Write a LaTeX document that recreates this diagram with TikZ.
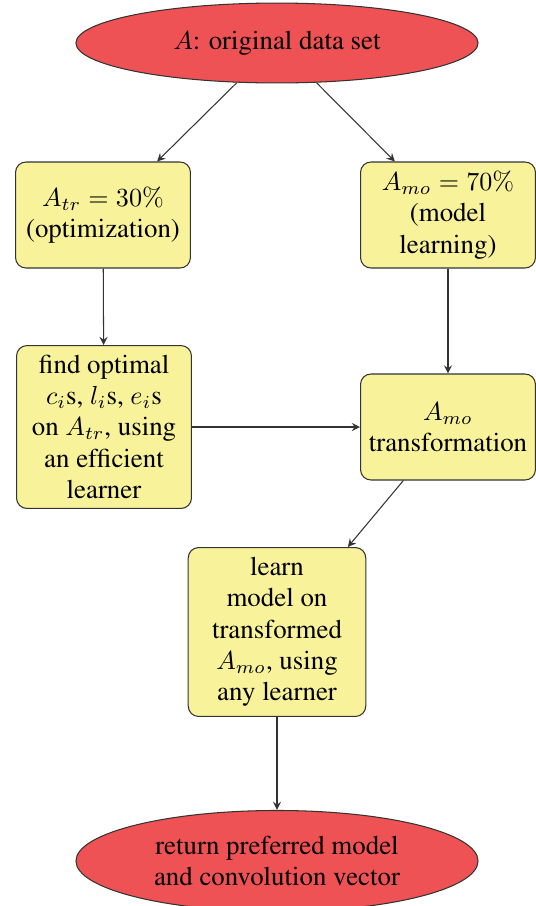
\documentclass[tikz,border=0pt]{standalone}
\usepackage[T1]{fontenc}
\usepackage{times}
\usepackage{tikz}
\usetikzlibrary{shapes.geometric}
\definecolor{termred}{RGB}{239,82,84}
\definecolor{procyellow}{RGB}{248,242,154}
\tikzstyle{block}=[draw=black!80, fill=procyellow, rounded corners=4pt, align=center,
                   inner sep=0, minimum width=67pt, minimum height=40.6pt]
\tikzstyle{term}=[draw=black!80, fill=termred, ellipse, align=center,
                  inner sep=0, minimum width=154pt, minimum height=30.6pt]
\tikzstyle{flow}=[draw=black!80, -stealth]
\begin{document}
\begin{tikzpicture}[x=0.383pt, y=-0.383pt,
                    % Slightly larger text than 10pt.
                    every node/.style={font=\fontsize{10.3}{12}\selectfont}]
        \useasboundingbox (0, 0) rectangle (536, 906);
        \node[term] (orig) at (277, 43) {$A$: original data set};
        \node[block] (atr) at (103, 215) {$A_{tr} = 30\%$\\(optimization)};
        \node[block] (amo) at (448, 215) {$A_{mo} = 70\%$\\(model\\learning)};
        \node[block, minimum height=62.4pt] (findopt) at (104, 427)
            {find optimal\\$c_i$s, $l_i$s, $e_i$s\\on $A_{tr}$, using\\an efficient\\learner};
        \node[block] (amotrans) at (448, 427) {$A_{mo}$\\transformation};
        \node[block, minimum width=68pt, minimum height=64.7pt] (learn) at (277, 632)
            {learn\\model on\\transformed\\$A_{mo}$, using\\any learner};
        \node[term, minimum height=38.7pt] (result) at (277, 861)
            {return preferred model\\and convolution vector};
        \draw[flow] (orig) -- (atr);
        \draw[flow] (orig) -- (amo);
        \draw[flow] (atr) -- (findopt);
        \draw[flow] (amo) -- (amotrans);
        \draw[flow] (findopt) -- (amotrans);
        \draw[flow] (amotrans) -- (learn);
        \draw[flow] (learn) -- (result);
    \end{tikzpicture}
\end{document}
